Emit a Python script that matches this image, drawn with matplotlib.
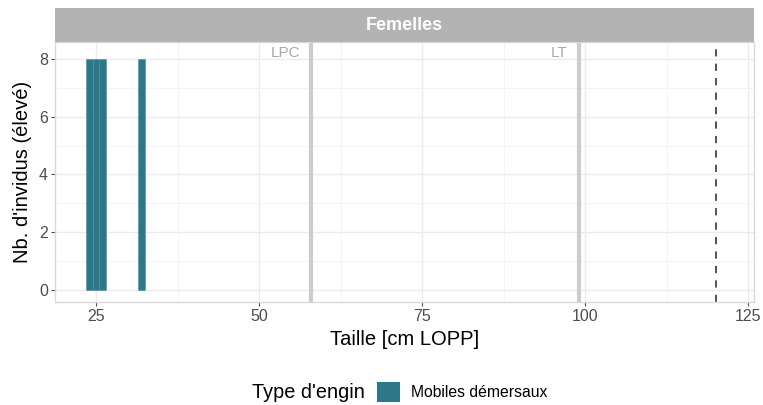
import matplotlib
matplotlib.use('Agg')
import matplotlib.pyplot as plt
import matplotlib.ticker as ticker
from matplotlib.patches import Patch

# Data
taille = [24, 25, 26, 32]
effectif = [8, 8, 8, 8]
engin = "Mobiles démersaux"
lpc = 58.0
lt = 99.0
lmax = 120.0

bar_col = '#2c7889'
grid_col = '#ebebeb'
text_col = '#4d4d4d'

plt.rcParams['font.family'] = ['Liberation Sans', 'DejaVu Sans']

fig = plt.figure(figsize=(7.63, 4.05), dpi=100)
ax = fig.add_axes([0.0721, 0.2543, 0.9161, 0.642])

ax.bar(taille, effectif, width=1.0, color=bar_col, edgecolor='#4f8e9d', linewidth=0.4, zorder=3)

ax.axvline(lpc, color='#cccccc', linewidth=3, zorder=2)
ax.axvline(lt, color='#cccccc', linewidth=3, zorder=2)
ax.axvline(lmax, color='#444444', linewidth=1.3, linestyle=(0, (4, 4)), zorder=2)

ax.text(lpc - 1.7, 8.22, "LPC", ha='right', va='center', color='#aaaaaa', fontsize=11)
ax.text(lt - 1.7, 8.22, "LT", ha='right', va='center', color='#aaaaaa', fontsize=11)

ax.set_xlim(18.7, 125.9)
ax.set_ylim(-0.42, 8.59)

ax.xaxis.set_major_locator(ticker.FixedLocator([25, 50, 75, 100, 125]))
ax.xaxis.set_minor_locator(ticker.FixedLocator([37.5, 62.5, 87.5, 112.5]))
ax.yaxis.set_major_locator(ticker.FixedLocator([0, 2, 4, 6, 8]))
ax.yaxis.set_minor_locator(ticker.FixedLocator([1, 3, 5, 7]))

ax.grid(True, which='major', color=grid_col, linewidth=1.0, zorder=0)
ax.grid(True, which='minor', color='#f3f3f3', linewidth=0.6, zorder=0)
ax.set_axisbelow(True)

for s in ax.spines.values():
    s.set_color('#d9d9d9')
    s.set_linewidth(1.0)

ax.tick_params(which='major', length=3, color='#4d4d4d', labelcolor=text_col, labelsize=11.5, pad=2)
ax.tick_params(which='minor', length=0)

ax.set_xlabel("Taille [cm LOPP]", fontsize=14.5, color='black', labelpad=4)
ax.set_ylabel("Nb. d'invidus (élevé)", fontsize=14.5, color='black', labelpad=5)

# Facet strip
strip = fig.add_axes([0.0721, 0.8963, 0.9161, 0.0839])
strip.set_facecolor('#b3b3b3')
strip.set_xticks([])
strip.set_yticks([])
for s in strip.spines.values():
    s.set_visible(False)
strip.text(0.5, 0.5, "Femelles", ha='center', va='center', color='white',
           fontsize=13, fontweight='bold', transform=strip.transAxes)

# Legend
fig.text(0.330, 0.032, "Type d'engin", ha='left', va='center', fontsize=14.3)
fig.legend(handles=[Patch(facecolor=bar_col, edgecolor='none', label=engin)],
           loc='center left', bbox_to_anchor=(0.494, 0.032), frameon=False,
           handlelength=1.5, handleheight=1.5, handletextpad=0.7, fontsize=11.3,
           borderpad=0, borderaxespad=0)

fig.savefig('out.png', dpi=100)
